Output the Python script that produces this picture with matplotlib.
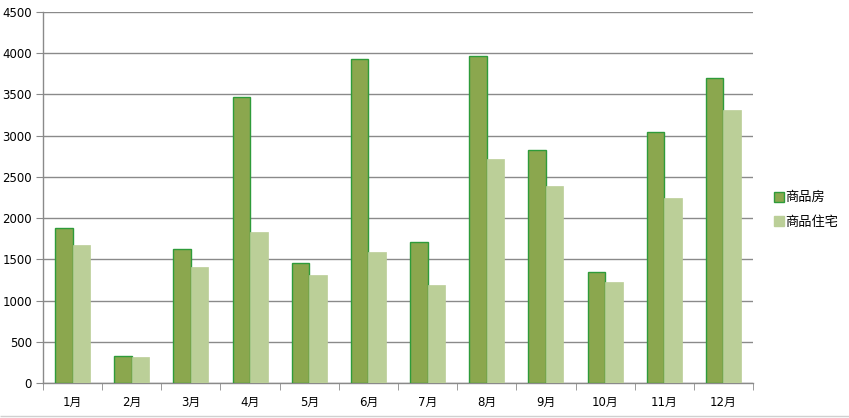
import matplotlib
matplotlib.use("Agg")
import matplotlib.pyplot as plt
import numpy as np
from matplotlib.patches import Patch

plt.rcParams['font.family'] = ['DejaVu Sans', 'Noto Sans CJK SC']

months = ['1月', '2月', '3月', '4月', '5月', '6月', '7月', '8月', '9月', '10月', '11月', '12月']
commercial = [1875, 327, 1620, 3470, 1450, 3930, 1715, 3965, 2830, 1350, 3045, 3700]
residential = [1670, 315, 1405, 1830, 1305, 1585, 1185, 2710, 2385, 1225, 2240, 3315]
series_names = ['商品房', '商品住宅']

dark = '#8BA74E'
dark_edge = '#2E9B3A'
light = '#BBCF98'

fig = plt.figure(figsize=(8.49, 4.18), dpi=100)
ax = fig.add_axes([0.0506, 0.0837, 0.8364, 0.888])

x = np.arange(len(months))
w = 0.295
ax.bar(x - w/2, commercial, width=w, color=dark, edgecolor=dark_edge, linewidth=1.0, zorder=3)
ax.bar(x + w/2, residential, width=w, color=light, edgecolor=light, linewidth=0.5, zorder=3)

ax.set_xlim(-0.5, len(months) - 0.5)
ax.set_ylim(0, 4500)
ax.set_yticks(np.arange(0, 4501, 500))
ax.yaxis.grid(True, color='#8a8a8a', linewidth=1.0, zorder=0)
ax.set_axisbelow(True)

ax.set_xticks(x)
ax.set_xticklabels(months, fontsize=8.5, family=['DejaVu Sans', 'Noto Sans CJK SC'])
ax.set_xticks(np.arange(-0.5, len(months)), minor=True)
ax.tick_params(axis='x', which='major', length=0, pad=9)
ax.tick_params(axis='x', which='minor', length=5, color='#8a8a8a', direction='out')
ax.tick_params(axis='y', length=5, color='#8a8a8a', labelsize=8.5, pad=3)

for s in ['top', 'right']:
    ax.spines[s].set_visible(False)
for s in ['left', 'bottom']:
    ax.spines[s].set_color('#8a8a8a')
    ax.spines[s].set_linewidth(1.0)

handles = [Patch(facecolor=dark, edgecolor=dark_edge, linewidth=1.0),
           Patch(facecolor=light, edgecolor=light)]
fig.legend(handles, series_names, loc='upper left', bbox_to_anchor=(0.905, 0.555),
           frameon=False, prop={'family': ['Noto Sans CJK SC'], 'size': 9.5},
           handlelength=0.75, handleheight=0.75, handletextpad=0.15, labelspacing=0.85,
           borderaxespad=0)

fig.patches.append(plt.Rectangle((0, 0.005), 1, 0.0, transform=fig.transFigure,
                                 edgecolor='#d0d0d0', linewidth=1.0, fill=False))

fig.savefig('out.png', dpi=100)
